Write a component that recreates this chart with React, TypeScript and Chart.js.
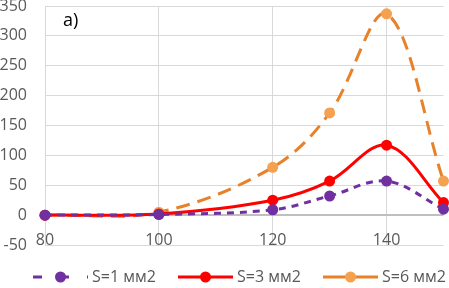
import React, { useEffect, useRef } from "react";
import { Chart, registerables } from "chart.js";
Chart.register(...registerables);

const xValues = [80, 100, 120, 130, 140, 150];
const s1 = [0, 1, 9, 32, 57, 10];
const s3 = [0, 2, 25, 57, 117, 21];
const s6 = [0, 5, 80, 171, 337, 57];
const seriesNames = ["S=1 мм2", "S=3 мм2", "S=6 мм2"];
const xTicks = [80, 100, 120, 140];
const yTicks = [-50, 0, 50, 100, 150, 200, 250, 300, 350];
const panelLabel = "a)";

const FONT = "'Open Sans', 'Liberation Sans', sans-serif";
const TEXT = "#595959";

const styles = [
  { line: "#7030A0", point: "#7030A0", dash: [7, 6] },
  { line: "#FF0000", point: "#FF0000", dash: [] as number[] },
  { line: "#E8822A", point: "#F5A250", dash: [14, 8] },
];

export default function App() {
  const ref = useRef<HTMLCanvasElement | null>(null);
  useEffect(() => {
    document.body.style.margin = "0";
    const canvas = ref.current!;
    const all = [s1, s3, s6];
    const overlay = {
      id: "overlay",
      afterDraw(chart: any) {
        const c = chart.ctx;
        const xs = chart.scales.x;
        const ys = chart.scales.y;
        const area = chart.chartArea;
        c.save();
        c.fillStyle = TEXT;
        c.font = `16px ${FONT}`;
        c.textAlign = "center";
        c.textBaseline = "middle";
        xTicks.forEach((v) => {
          c.fillText(String(v), xs.getPixelForValue(v), area.bottom - 5);
        });
        c.textAlign = "right";
        yTicks.forEach((v) => {
          c.fillText(String(v), 27, ys.getPixelForValue(v));
        });
        c.fillStyle = "#000";
        c.font = `18px ${FONT}`;
        c.textAlign = "left";
        c.fillText(panelLabel, area.left + 18, area.top + 15);
        // legend
        c.font = `16px ${FONT}`;
        const lineLen = 55;
        const gapText = 4;
        const gapItem = 20;
        const widths = seriesNames.map((n) => c.measureText(n).width);
        let x = 33;
        const y = 277;
        seriesNames.forEach((n, i) => {
          const st = styles[i];
          c.strokeStyle = st.line;
          c.lineWidth = 3;
          c.setLineDash(i === 0 ? [9, 18] : []);
          c.beginPath();
          c.moveTo(x, y);
          c.lineTo(x + lineLen, y);
          c.stroke();
          c.setLineDash([]);
          c.fillStyle = st.point;
          c.beginPath();
          c.arc(x + lineLen / 2, y, 5.5, 0, Math.PI * 2);
          c.fill();
          c.fillStyle = TEXT;
          c.textAlign = "left";
          c.fillText(n, x + lineLen + gapText, y);
          x += lineLen + gapText + Math.max(widths[i], 66) + gapItem;
        });
        c.restore();
      },
    };
    const chart = new Chart(canvas, {
      type: "line",
      data: {
        datasets: all.map((arr, i) => ({
          label: seriesNames[i],
          data: arr.map((v, j) => ({ x: xValues[j], y: v })),
          borderColor: styles[i].line,
          backgroundColor: styles[i].point,
          pointBackgroundColor: styles[i].point,
          pointBorderColor: styles[i].point,
          pointRadius: 5.5,
          pointBorderWidth: 0,
          borderWidth: 3,
          borderDash: styles[i].dash,
          tension: 0.35,
          clip: false as any,
          fill: false,
        })),
      },
      options: {
        animation: false,
        responsive: false,
        layout: { padding: { top: 6, right: 5, left: 0, bottom: 0 } },
        plugins: { legend: { display: false }, tooltip: { enabled: false } },
        scales: {
          x: {
            type: "linear",
            min: 80,
            max: 150,
            afterBuildTicks: (s: any) => {
              s.ticks = xTicks.map((v) => ({ value: v }));
            },
            afterFit: (s: any) => {
              s.height = 43;
            },
            ticks: { display: false },
            grid: { color: "#D9D9D9", lineWidth: 1, drawTicks: false },
            border: { display: false },
          },
          y: {
            min: -50,
            max: 350,
            afterBuildTicks: (s: any) => {
              s.ticks = yTicks.map((v) => ({ value: v }));
            },
            afterFit: (s: any) => {
              s.width = 45;
            },
            ticks: { display: false },
            grid: {
              drawTicks: false,
              color: (ctx: any) => (ctx.tick && ctx.tick.value === 0 ? "#BFBFBF" : "#D9D9D9"),
              lineWidth: (ctx: any) => (ctx.tick && ctx.tick.value === 0 ? 2 : 1),
            },
            border: { display: true, color: "#D9D9D9" },
          },
        },
      },
      plugins: [overlay],
    } as any);
    return () => chart.destroy();
  }, []);
  return (
    <div style={{ position: "fixed", left: 0, top: 0, width: 449, height: 288, background: "#fff" }}>
      <canvas ref={ref} width={449} height={288} style={{ width: 449, height: 288 }} />
    </div>
  );
}
